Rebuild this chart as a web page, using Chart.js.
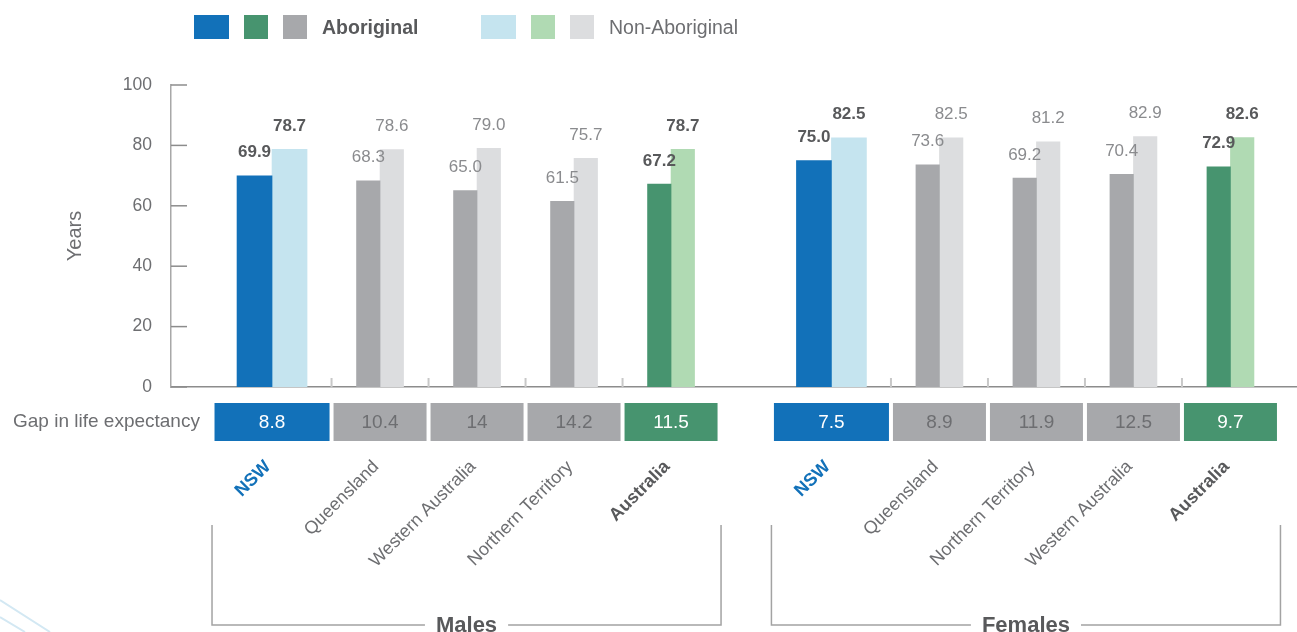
<!DOCTYPE html>
<html><head><meta charset="utf-8">
<script src="https://cdn.jsdelivr.net/npm/chart.js@4/dist/chart.umd.min.js"></script>
<style>html,body{margin:0;padding:0;background:#fff;overflow:hidden}canvas{display:block}</style>
</head><body>
<canvas id="c" width="1297" height="632"></canvas>
<script>
// ---------------- data ----------------
const groupNames = ['Males', 'Females'];
const maleStates = ['NSW', 'Queensland', 'Western Australia', 'Northern Territory', 'Australia'];
const maleAboriginal = [69.9, 68.3, 65.0, 61.5, 67.2];
const maleNonAboriginal = [78.7, 78.6, 79.0, 75.7, 78.7];
const maleGap = [8.8, 10.4, 14, 14.2, 11.5];
const femaleStates = ['NSW', 'Queensland', 'Northern Territory', 'Western Australia', 'Australia'];
const femaleAboriginal = [75.0, 73.6, 69.2, 70.4, 72.9];
const femaleNonAboriginal = [82.5, 82.5, 81.2, 82.9, 82.6];
const femaleGap = [7.5, 8.9, 11.9, 12.5, 9.7];
const yTicks = [0, 20, 40, 60, 80, 100];
const legendLabels = ['Aboriginal', 'Non-Aboriginal'];
const gapRowLabel = 'Gap in life expectancy';
const yTitle = 'Years';

// ---------------- layout / style ----------------
const FONT = '"Liberation Sans", Arial, Helvetica, sans-serif';
const COLORS = {
  nsw:   ['#1271B9', '#C5E4EF'],
  aus:   ['#47946F', '#B0DAB3'],
  state: ['#A7A8AB', '#DCDDDF']
};
const DARK = '#58595B', GREY = '#6D6E71', LIGHTGREY = '#8A8B8E';
const kindOf = n => n === 'NSW' ? 'nsw' : (n === 'Australia' ? 'aus' : 'state');
const WIDE_SLOT = 1.227, GROUP_GAP = 0.54, X_MIN = -0.428, X_MAX = 11.18;
const WIDE_BAR = 35, NARROW_BAR = 23.5;

const groupsData = [
  [maleStates, maleAboriginal, maleNonAboriginal, maleGap],
  [femaleStates, femaleAboriginal, femaleNonAboriginal, femaleGap]
];
const slots = [];
const groupSpans = [];
let cursor = 0;
groupsData.forEach((grp, g) => {
  if (g > 0) cursor += GROUP_GAP;
  const gStart = cursor;
  grp[0].forEach((name, i) => {
    const w = name === 'NSW' ? WIDE_SLOT : 1;
    slots.push({ g, name, ab: grp[1][i], non: grp[2][i], gap: grp[3][i],
                 start: cursor, end: cursor + w, center: cursor + w / 2 });
    cursor += w;
  });
  groupSpans.push({ name: groupNames[g], start: gStart, end: cursor });
});

const wide = slots.filter(s => s.name === 'NSW');
const narrow = slots.filter(s => s.name !== 'NSW');
function mkSet(list, key, stack, thick, ci, label) {
  return {
    label, stack, barThickness: thick, borderWidth: 0,
    data: list.map(s => ({ x: s.center, y: s[key] })),
    backgroundColor: list.map(s => COLORS[kindOf(s.name)][ci]),
    slotRefs: list
  };
}

const decor = {
  id: 'decor',
  afterDatasetsDraw(chart) {
    const { ctx, chartArea, scales: { x, y } } = chart;
    ctx.save();
    // inward y ticks
    ctx.strokeStyle = '#8C8C8C'; ctx.lineWidth = 1.5;
    yTicks.forEach(t => {
      const yy = y.getPixelForValue(t);
      ctx.beginPath(); ctx.moveTo(chartArea.left, yy); ctx.lineTo(chartArea.left + 16, yy); ctx.stroke();
    });
    // separators between categories
    ctx.strokeStyle = '#C8C8C8'; ctx.lineWidth = 2;
    slots.forEach((s, k) => {
      const nx = slots[k + 1];
      if (nx && nx.g === s.g) {
        const xx = x.getPixelForValue(s.end);
        ctx.beginPath(); ctx.moveTo(xx, chartArea.bottom - 9); ctx.lineTo(xx, chartArea.bottom); ctx.stroke();
      }
    });
    // value labels
    chart.data.datasets.forEach((ds, di) => {
      const meta = chart.getDatasetMeta(di);
      meta.data.forEach((bar, k) => {
        const s = ds.slotRefs[k];
        const hl = kindOf(s.name) !== 'state';
        ctx.font = (hl ? 'bold ' : '') + '17px ' + FONT;
        ctx.fillStyle = hl ? DARK : LIGHTGREY;
        ctx.textAlign = 'center'; ctx.textBaseline = 'alphabetic';
        ctx.fillText(ds.data[k].y.toFixed(1), bar.x, bar.y - 18.5);
      });
    });
    ctx.restore();
  },
  afterDraw(chart) {
    const { ctx, scales: { x } } = chart;
    ctx.save();
    // legend
    const legendStarts = [194, 481];
    legendLabels.forEach((lab, li) => {
      let lx = legendStarts[li];
      ['nsw', 'aus', 'state'].forEach(k => {
        const w = k === 'nsw' ? WIDE_BAR : 24;
        ctx.fillStyle = COLORS[k][li];
        ctx.fillRect(lx, 15, w, 24);
        lx += w + 15;
      });
      ctx.font = (li === 0 ? 'bold ' : '') + '19.5px ' + FONT;
      ctx.fillStyle = li === 0 ? DARK : GREY;
      ctx.textAlign = 'left'; ctx.textBaseline = 'alphabetic';
      ctx.fillText(lab, lx, 34);
    });
    // gap row label
    ctx.font = '19px ' + FONT; ctx.fillStyle = GREY;
    ctx.textAlign = 'left'; ctx.textBaseline = 'middle';
    ctx.fillText(gapRowLabel, 13, 422);
    // gap cells
    slots.forEach(s => {
      const x0 = x.getPixelForValue(s.start) + 2, x1 = x.getPixelForValue(s.end) - 2;
      const k = kindOf(s.name);
      ctx.fillStyle = COLORS[k][0];
      ctx.fillRect(x0, 403, x1 - x0, 38);
      ctx.font = '19px ' + FONT;
      ctx.fillStyle = k === 'state' ? GREY : '#FFFFFF';
      ctx.textAlign = 'center'; ctx.textBaseline = 'middle';
      ctx.fillText(String(s.gap), (x0 + x1) / 2, 423);
    });
    // rotated category labels
    slots.forEach(s => {
      const k = kindOf(s.name);
      ctx.save();
      ctx.translate(x.getPixelForValue(s.center) - 4, 464);
      ctx.rotate(-Math.PI / 4);
      ctx.font = (k === 'state' ? '' : 'bold ') + '18px ' + FONT;
      ctx.fillStyle = k === 'nsw' ? COLORS.nsw[0] : (k === 'aus' ? DARK : GREY);
      ctx.textAlign = 'right'; ctx.textBaseline = 'middle';
      ctx.fillText(s.name, 0, 0);
      ctx.restore();
    });
    // group brackets
    groupSpans.forEach(gs => {
      const x0 = x.getPixelForValue(gs.start) - 0.5, x1 = x.getPixelForValue(gs.end) + 1.5;
      const cx = (x0 + x1) / 2;
      ctx.font = 'bold 22px ' + FONT;
      const tw = ctx.measureText(gs.name).width;
      ctx.strokeStyle = '#A3A3A3'; ctx.lineWidth = 1.5;
      ctx.beginPath();
      ctx.moveTo(x0, 525); ctx.lineTo(x0, 625); ctx.lineTo(cx - tw / 2 - 11, 625);
      ctx.moveTo(cx + tw / 2 + 11, 625); ctx.lineTo(x1, 625); ctx.lineTo(x1, 525);
      ctx.stroke();
      ctx.fillStyle = DARK; ctx.textAlign = 'center'; ctx.textBaseline = 'alphabetic';
      ctx.fillText(gs.name, cx, 632);
    });
    // faint decorative lines bottom-left
    ctx.strokeStyle = '#D3E8F3'; ctx.lineWidth = 2;
    ctx.beginPath(); ctx.moveTo(0, 600); ctx.lineTo(50, 632); ctx.moveTo(0, 617); ctx.lineTo(25, 632); ctx.stroke();
    ctx.restore();
  }
};

new Chart(document.getElementById('c'), {
  type: 'bar',
  data: {
    datasets: [
      mkSet(wide, 'ab', 'ab', WIDE_BAR, 0, legendLabels[0]),
      mkSet(wide, 'non', 'non', WIDE_BAR, 1, legendLabels[1]),
      mkSet(narrow, 'ab', 'ab', NARROW_BAR, 0, legendLabels[0]),
      mkSet(narrow, 'non', 'non', NARROW_BAR, 1, legendLabels[1])
    ]
  },
  options: {
    responsive: false,
    animation: false,
    devicePixelRatio: 1,
    events: [],
    layout: { padding: { top: 85, bottom: 245, left: 0, right: 0 } },
    plugins: { legend: { display: false }, tooltip: { enabled: false } },
    scales: {
      x: {
        type: 'linear', min: X_MIN, max: X_MAX, offset: false,
        ticks: { display: false },
        grid: { display: false, drawTicks: false },
        border: { display: true, color: '#8C8C8C', width: 1.5 },
        afterFit: s => { s.height = 0; }
      },
      y: {
        min: 0, max: 100, stacked: false,
        afterBuildTicks: s => { s.ticks = yTicks.map(v => ({ value: v })); },
        ticks: { padding: 19, color: GREY, font: { family: FONT, size: 17.5 } },
        grid: { display: false, drawTicks: false },
        border: { display: true, color: '#A8A8A8', width: 1.5 },
        title: { display: true, text: yTitle, color: GREY, font: { family: FONT, size: 20 }, padding: { top: 63, bottom: 0 } },
        afterFit: s => { s.width = 171; }
      }
    }
  },
  plugins: [decor]
});
</script>
</body></html>
